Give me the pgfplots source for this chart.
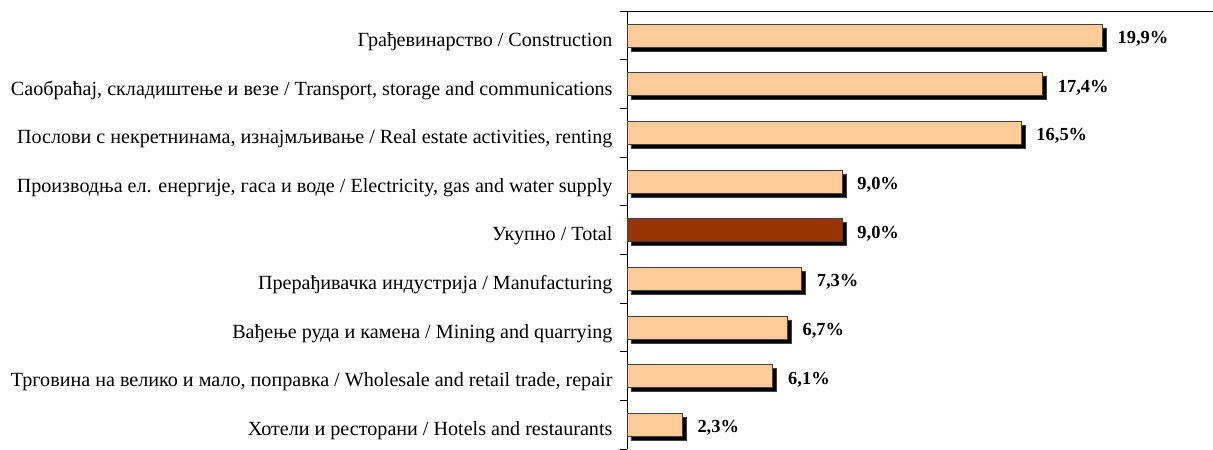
\documentclass[border=0pt]{standalone}
\usepackage{fontspec}
\setmainfont{Liberation Serif}
\usepackage{pgfplots}
\pgfplotsset{compat=1.18}
\definecolor{barlight}{HTML}{FFCC99}
\definecolor{bardark}{HTML}{993300}
\begin{document}
\begin{tikzpicture}
\begin{axis}[
  name=ax,
  scale only axis,
  width=586bp, height=438bp,
  xmin=0, xmax=24.55,
  ymin=-0.5, ymax=8.5,
  y dir=reverse,
  axis x line*=top,
  axis y line*=left,
  xtick=\empty,
  ytick={-0.5,0.5,1.5,2.5,3.5,4.5,5.5,6.5,7.5,8.5},
  y tick label as interval,
  yticklabels={{Грађевинарство / Construction},
    {Саобраћај, складиштење и везе / Transport, storage and communications},
    {Послови с некретнинама, изнајмљивање / Real estate activities, renting},
    {Производња ел. енергије, гаса и воде / Electricity, gas and water supply},
    {Укупно / Total},
    {Прерађивачка индустрија / Manufacturing},
    {Вађење руда и камена / Mining and quarrying},
    {Трговина на велико и мало, поправка / Wholesale and retail trade, repair},
    {Хотели и ресторани / Hotels and restaurants}},
  tick align=outside,
  major tick length=7bp,
  tick style={black, line width=0.6bp},
  axis line style={black, line width=0.6bp},
  yticklabel style={font=\fontsize{20.2}{23}\selectfont, xshift=-4bp, yshift=-6bp},
  xbar,
  bar width=23bp,
  bar shift=0pt,
  clip=false,
  point meta=x,
  nodes near coords={\pgfmathprintnumber[fixed,fixed zerofill,precision=1,use comma,assume math mode=true]{\pgfplotspointmeta}\%},
  every node near coord/.append style={font=\fontsize{18.5}{22}\bfseries\selectfont, anchor=west, xshift=12bp, yshift=-3.5bp, black},
]
\addplot[draw=black!75, line width=0.6bp, fill=barlight,
  preaction={fill=black, transform canvas={shift={(4bp,-4bp)}}}]
  coordinates {(19.9,0) (17.4,1) (16.5,2) (9.0,3) (7.3,5) (6.7,6) (6.1,7) (2.3,8)};
\addplot[draw=black!75, line width=0.6bp, fill=bardark,
  preaction={fill=black, transform canvas={shift={(4bp,-4bp)}}}]
  coordinates {(9.0,4)};
\end{axis}
\pgfresetboundingbox
\path[use as bounding box] ([xshift=-627bp,yshift=-1bp]ax.south west) rectangle ([yshift=11bp]ax.north east);
\end{tikzpicture}
\end{document}
